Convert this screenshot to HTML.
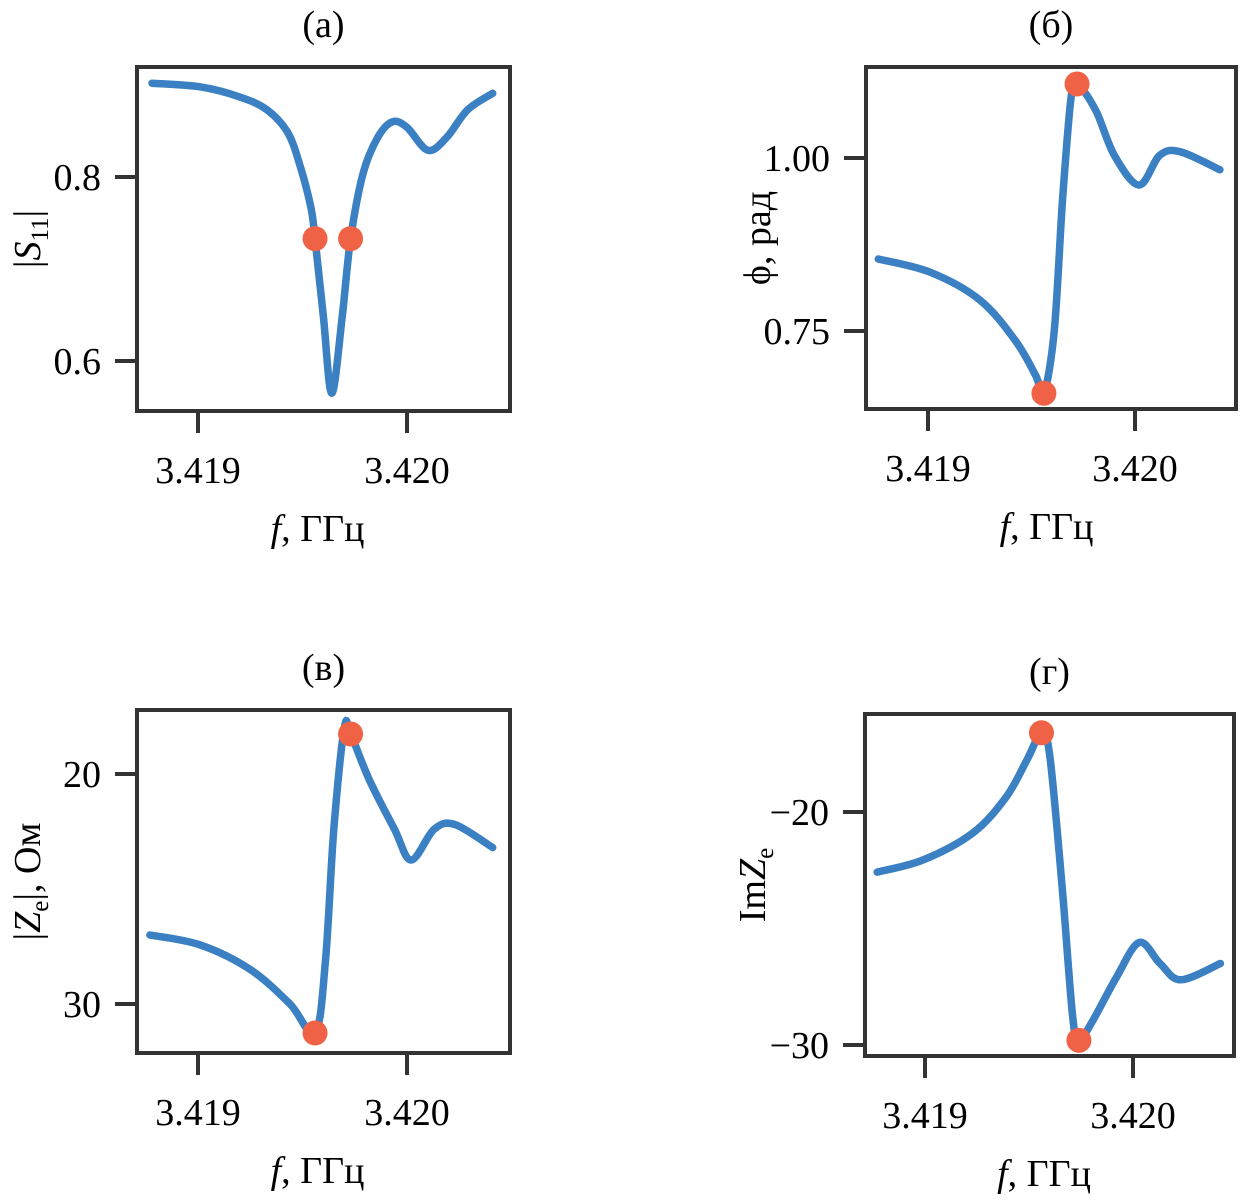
<!DOCTYPE html>
<html><head><meta charset="utf-8">
<style>
html,body{margin:0;padding:0;background:#fff;}
svg{display:block;font-family:"Liberation Serif",serif;}
</style></head>
<body>
<svg id="fig" width="1240" height="1201" viewBox="0 0 1240 1201" xmlns="http://www.w3.org/2000/svg"></svg>
<script>
// Panel (a) |S11|
const aFreq=[3.41878,3.41901,3.41920,3.41933,3.41943,3.41949,3.41954,3.41956,3.41960,3.41964,3.41969,3.41973,3.41979,3.41986,3.41993,3.42000,3.42010,3.42019,3.42029,3.42041];
const aVals=[0.902,0.898,0.887,0.873,0.848,0.811,0.767,0.733,0.648,0.565,0.648,0.733,0.804,0.843,0.860,0.854,0.829,0.843,0.873,0.891];
const aMarkF=[3.41956,3.41973];
const aMarkV=[0.733,0.733];
const aTicksY=[0.8,0.6];
const aTickLabelsY=["0.8","0.6"];
// Panel (б) phase
const bFreq=[3.41876,3.41901,3.41925,3.41942,3.41952,3.41956,3.41961,3.41965,3.41969,3.41972,3.41981,3.41990,3.42002,3.42012,3.42022,3.42041];
const bVals=[0.854,0.835,0.795,0.737,0.686,0.660,0.751,0.939,1.084,1.107,1.069,1.004,0.961,1.004,1.009,0.983];
const bMarkF=[3.41956,3.41972];
const bMarkV=[0.660,1.107];
const bTicksY=[1.00,0.75];
const bTickLabelsY=["1.00","0.75"];
// Panel (в) |Ze|
const cFreq=[3.41877,3.41901,3.41925,3.41944,3.41956,3.41961,3.41965,3.41970,3.41973,3.41982,3.41994,3.42002,3.42013,3.42023,3.42041];
const cVals=[27.0,27.43,28.5,30.0,31.26,28.1,22.4,18.0,18.26,20.26,22.4,23.74,22.4,22.2,23.2];
const cMarkF=[3.41956,3.41973];
const cMarkV=[31.26,18.26];
const cTicksY=[20,30];
const cTickLabelsY=["20","30"];
// Panel (г) ImZe
const dFreq=[3.41877,3.41899,3.41923,3.41939,3.41949,3.41956,3.41960,3.41966,3.41971,3.41974,3.41981,3.41992,3.42003,3.42013,3.42023,3.42042];
const dVals=[-22.58,-22.06,-20.9,-19.36,-17.77,-16.6,-17.6,-23.3,-28.8,-29.8,-28.9,-27.1,-25.6,-26.5,-27.2,-26.5];
const dMarkF=[3.41956,3.41974];
const dMarkV=[-16.6,-29.8];
const dTicksY=[-20,-30];
const dTickLabelsY=["\u221220","\u221230"];
const xTicks=[3.419,3.420];
const xTickLabels=["3.419","3.420"];

const NS="http://www.w3.org/2000/svg";
const svg=document.getElementById('fig');
function mk(tag,attrs,parent){const e=document.createElementNS(NS,tag);for(const k in attrs)e.setAttribute(k,attrs[k]);(parent||svg).appendChild(e);return e;}
function catmull(pts){
  let d="M"+pts[0][0].toFixed(1)+","+pts[0][1].toFixed(1);
  for(let i=0;i<pts.length-1;i++){
    const p0=pts[Math.max(0,i-1)],p1=pts[i],p2=pts[i+1],p3=pts[Math.min(pts.length-1,i+2)];
    const c1=[p1[0]+(p2[0]-p0[0])/6,p1[1]+(p2[1]-p0[1])/6];
    const c2=[p2[0]-(p3[0]-p1[0])/6,p2[1]-(p3[1]-p1[1])/6];
    d+=" C"+c1[0].toFixed(1)+","+c1[1].toFixed(1)+" "+c2[0].toFixed(1)+","+c2[1].toFixed(1)+" "+p2[0].toFixed(1)+","+p2[1].toFixed(1);
  }
  return d;
}
function panel(cfg){
  const g=mk('g',{});
  
  
  const xs=f=>cfg.x0+(f-3.419)*(cfg.x1-cfg.x0)/0.001;
  const ys=v=>cfg.ya+(v-cfg.tv[0])*(cfg.yb-cfg.ya)/(cfg.tv[1]-cfg.tv[0]);
  const t=mk('text',{x:(cfg.L+cfg.R)/2,y:cfg.T-30,'text-anchor':'middle','font-size':38},g);
  t.textContent=cfg.title;
  
  
  const p=mk('path',{d:catmull(cfg.F.map((f,i)=>[xs(f),ys(cfg.V[i])])),fill:'none',stroke:'#3a80c2','stroke-width':7.5,'stroke-linecap':'round','stroke-linejoin':'round'},g);
  
  
  cfg.MF.forEach((f,i)=>{
    const c=mk('circle',{cx:xs(f),cy:ys(cfg.MV[i]),r:12.5,fill:'#ef6246'},g);
    
    
  });
  const box=mk('rect',{x:cfg.L,y:cfg.T,width:cfg.R-cfg.L,height:cfg.B-cfg.T,fill:'none',stroke:'#333','stroke-width':4},g);
  
  
  xTicks.forEach((f,i)=>{
    const x=xs(f);
    mk('line',{x1:x,x2:x,y1:cfg.B,y2:cfg.B+22,stroke:'#333','stroke-width':4},g);
    const tl=mk('text',{x:x,y:cfg.B+72,'text-anchor':'middle','font-size':38},g);
    tl.textContent=xTickLabels[i];
    
    
  });
  cfg.tv.forEach((v,i)=>{
    const y=ys(v);
    mk('line',{x1:cfg.L-22,x2:cfg.L,y1:y,y2:y,stroke:'#333','stroke-width':4},g);
    const tl=mk('text',{x:cfg.L-36,y:y+13,'text-anchor':'end','font-size':38},g);
    tl.textContent=cfg.tl[i];
    
    
  });
  const xl=mk('text',{x:(cfg.x0+cfg.x1)/2+15,y:cfg.B+130,'text-anchor':'middle','font-size':38},g);
  xl.innerHTML='<tspan font-style="italic">f</tspan>, ГГц';
  
  
  const cy=(cfg.T+cfg.B)/2;
  const yl=mk('text',{x:cfg.ylx,y:cy,'text-anchor':'middle','font-size':38,transform:'rotate(-90 '+cfg.ylx+' '+cy+')'},g);
  yl.innerHTML=cfg.ylabel;
  
  
}
panel({name:'panel-a-s11',title:'(а)',L:137,R:510,T:67,B:411,x0:198,x1:407,ya:177,yb:361,tv:aTicksY,tl:aTickLabelsY,F:aFreq,V:aVals,MF:aMarkF,MV:aMarkV,ylx:40,
  ylabel:'|<tspan font-style="italic">S</tspan><tspan font-size="25" dy="8">11</tspan><tspan dy="-8">|</tspan>'});
panel({name:'panel-b-phase',title:'(б)',L:866,R:1236,T:67,B:409,x0:928,x1:1135,ya:158,yb:331,tv:bTicksY,tl:bTickLabelsY,F:bFreq,V:bVals,MF:bMarkF,MV:bMarkV,ylx:770,
  ylabel:'ϕ, рад'});
panel({name:'panel-c-ze-abs',title:'(в)',L:137,R:510,T:710,B:1053,x0:198,x1:407,ya:774,yb:1004,tv:cTicksY,tl:cTickLabelsY,F:cFreq,V:cVals,MF:cMarkF,MV:cMarkV,ylx:40,
  ylabel:'|<tspan font-style="italic">Z</tspan><tspan font-size="25" dy="8">e</tspan><tspan dy="-8">|, Ом</tspan>'});
panel({name:'panel-d-im-ze',title:'(г)',L:865,R:1234,T:714,B:1056,x0:925,x1:1133,ya:812,yb:1045,tv:dTicksY,tl:dTickLabelsY,F:dFreq,V:dVals,MF:dMarkF,MV:dMarkV,ylx:765,
  ylabel:'Im<tspan font-style="italic">Z</tspan><tspan font-size="25" dy="8">e</tspan>'});
</script>
</body></html>
